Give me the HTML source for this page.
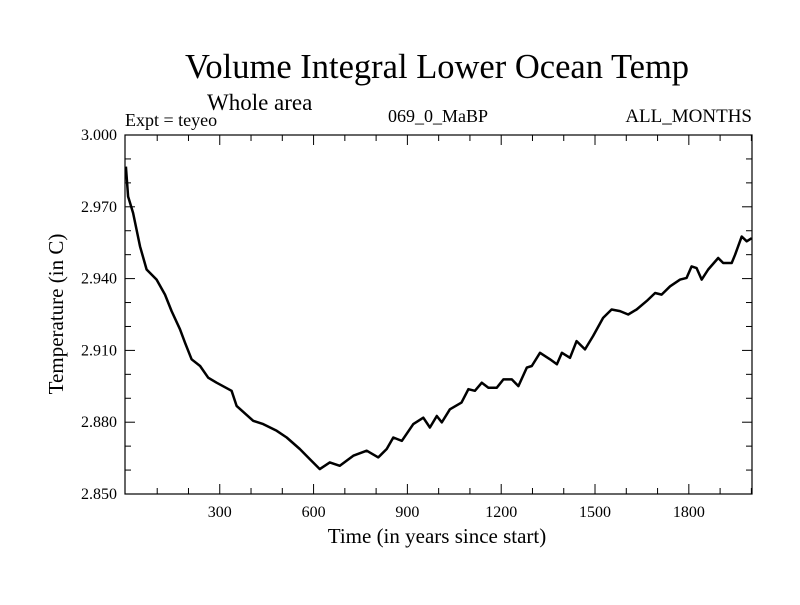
<!DOCTYPE html>
<html><head><meta charset="utf-8"><style>
body{margin:0;background:#fff;}
svg text{font-family:"Liberation Serif",serif;fill:#000;}
</style></head><body>
<svg id="chart" width="800" height="600" xmlns="http://www.w3.org/2000/svg">
<text x="437" y="78" font-size="34.5" text-anchor="middle">Volume Integral Lower Ocean Temp</text>
<text x="207" y="110" font-size="23">Whole area</text>
<text x="125" y="126" font-size="18">Expt = teyeo</text>
<text x="438" y="122" font-size="18" text-anchor="middle">069_0_MaBP</text>
<text x="752" y="122" font-size="19" text-anchor="end">ALL_MONTHS</text>
<text x="437" y="543" font-size="21" text-anchor="middle">Time (in years since start)</text>
<text x="0" y="0" font-size="21" text-anchor="middle" transform="translate(63,314) rotate(-90)">Temperature (in C)</text>
<g id="ticks"></g>
<g id="plot"></g>
<rect x="125" y="135" width="627" height="359" fill="none" stroke="#000" stroke-width="1.2"/>
</svg>
<script>
const years=[0,7,23,45,66,98,125,146,173,189,210,237,263,290,338,354,407,439,482,514,556,588,620,652,684,727,770,807,834,855,882,919,951,972,994,1010,1036,1073,1095,1116,1138,1159,1186,1207,1234,1255,1282,1298,1324,1356,1378,1394,1420,1441,1468,1494,1526,1553,1580,1606,1633,1665,1692,1713,1740,1772,1793,1809,1825,1841,1862,1894,1910,1937,1948,1969,1985,2001];
const temps=[2.9868,2.9743,2.9674,2.9535,2.9438,2.9396,2.9333,2.9264,2.9188,2.9132,2.9063,2.9035,2.8986,2.8965,2.8931,2.8868,2.8806,2.8792,2.8764,2.8736,2.8688,2.8646,2.8604,2.8632,2.8618,2.8660,2.8681,2.8653,2.8688,2.8736,2.8722,2.8792,2.8819,2.8778,2.8826,2.8799,2.8854,2.8882,2.8938,2.8931,2.8965,2.8944,2.8944,2.8979,2.8979,2.8951,2.9028,2.9035,2.9090,2.9063,2.9042,2.9090,2.9069,2.9139,2.9104,2.9160,2.9236,2.9271,2.9264,2.9250,2.9271,2.9306,2.9340,2.9333,2.9368,2.9396,2.9403,2.9451,2.9444,2.9396,2.9438,2.9486,2.9465,2.9465,2.9500,2.9576,2.9556,2.9569];
const xTicks=[300,600,900,1200,1500,1800];
const yTicks=[2.850,2.880,2.910,2.940,2.970,3.000];
const X0=125,X1=752,Y0=135,Y1=494,XMIN=-3,XMAX=2002,YMIN=2.85,YMAX=3.0;
const sx=v=>X0+(v-XMIN)/(XMAX-XMIN)*(X1-X0);
const sy=v=>Y1-(v-YMIN)/(YMAX-YMIN)*(Y1-Y0);
const NS="http://www.w3.org/2000/svg";
const tg=document.getElementById('ticks'), pg=document.getElementById('plot');
function ln(x1,y1,x2,y2){const l=document.createElementNS(NS,'line');l.setAttribute('x1',x1);l.setAttribute('y1',y1);l.setAttribute('x2',x2);l.setAttribute('y2',y2);l.setAttribute('stroke','#000');l.setAttribute('stroke-width','1');tg.appendChild(l);return l;}
for(let t=100;t<XMAX;t+=100){const x=sx(t);const L=(t%300===0)?10:6;
 const a=ln(x,Y1,x,Y1-L);
 const b=ln(x,Y0,x,Y0+L);}
for(let i=0;i<=15;i++){const v=YMIN+i*0.01;const y=sy(v);const L=(i%3===0)?10:6;
 const a=ln(X0,y,X0+L,y);
 const b=ln(X1,y,X1-L,y);}
xTicks.forEach(t=>{const e=document.createElementNS(NS,'text');e.setAttribute('x',sx(t));e.setAttribute('y',Y1+23);e.setAttribute('font-size','16');e.setAttribute('text-anchor','middle');e.textContent=t;


tg.appendChild(e);});
yTicks.forEach(t=>{const e=document.createElementNS(NS,'text');e.setAttribute('x',X0-8);e.setAttribute('y',sy(t)+5);e.setAttribute('font-size','16');e.setAttribute('text-anchor','end');e.textContent=t.toFixed(3);


tg.appendChild(e);});
const p=document.createElementNS(NS,'path');
p.setAttribute('d',years.map((y,i)=>(i?'L':'M')+sx(y).toFixed(1)+' '+sy(temps[i]).toFixed(1)).join(' '));
p.setAttribute('fill','none');p.setAttribute('stroke','#000');p.setAttribute('stroke-width','2.5');p.setAttribute('stroke-linejoin','round');


pg.appendChild(p);
</script>
</body></html>
